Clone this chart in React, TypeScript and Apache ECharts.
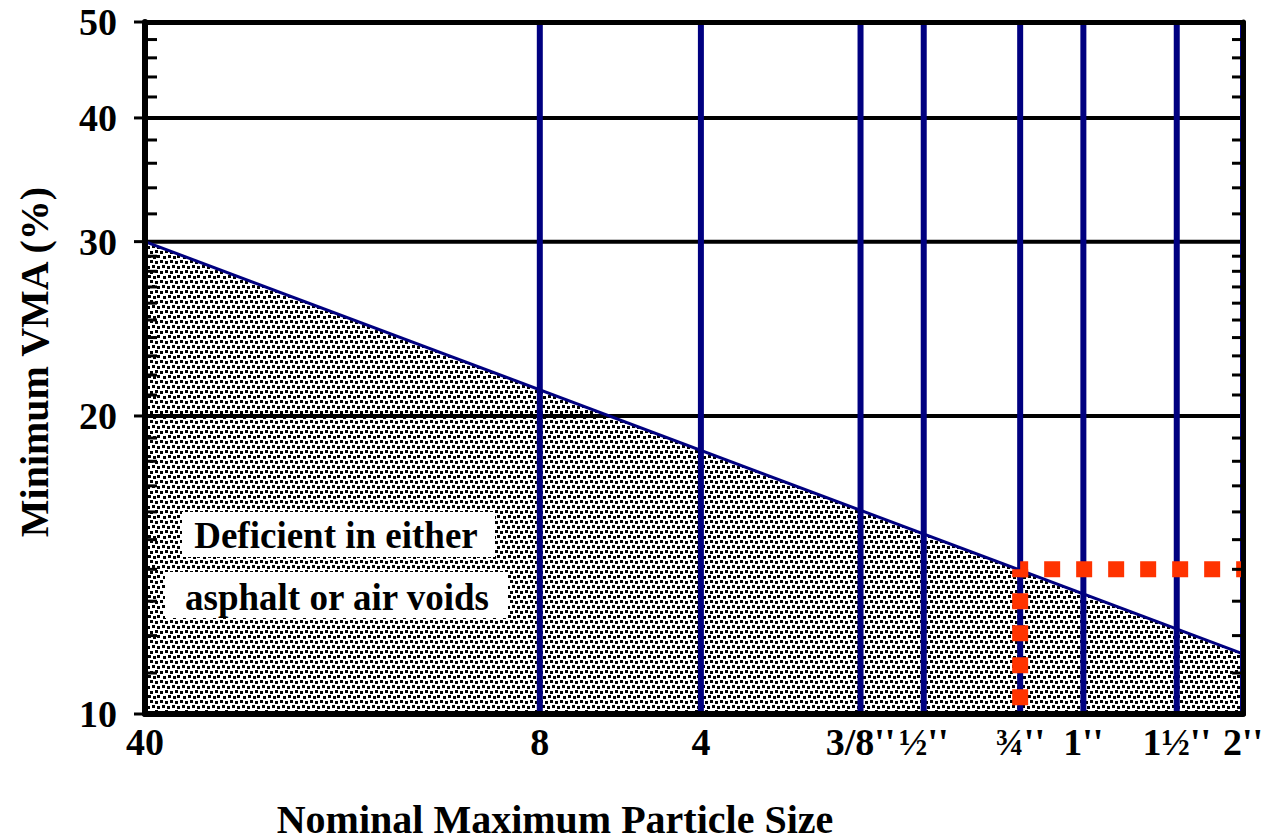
import React, { useEffect, useRef } from "react";
import * as echarts from "echarts";

// ---- data ----
const X_MIN = 0.425; // No. 40 sieve (mm)
const X_MAX = 50; // 2" sieve (mm)
const Y_MIN = 10;
const Y_MAX = 50;

const sieveSizes = [0.425, 2.36, 4.75, 9.5, 12.5, 19, 25, 37.5, 50];
const sieveLabels = ["40", "8", "4", "3/8''", "½''", "¾''", "1''", "1½''", "2''"];
const verticalLineSizes = [2.36, 4.75, 9.5, 12.5, 19, 25, 37.5, 50];

const yMajorTicks = [10, 20, 30, 40, 50];
const yMinorTicks = [
  11, 12, 13, 14, 15, 16, 17, 18, 19,
  21, 22, 23, 24, 25, 26, 27, 28, 29,
  32, 34, 36, 38,
  42, 44, 46, 48,
];
const gridLinesY = [20, 30, 40];

const boundaryX = [0.425, 50];
const boundaryVMA = [30, 11.5];

const exampleSize = 19; // 3/4"
const exampleVMA = 14;

const annotationLines = ["Deficient in either", "asphalt or air voids"];
const yTitle = "Minimum VMA (%)";
const xTitle = "Nominal Maximum Particle Size";

const FONT = '"Liberation Serif", "Times New Roman", Times, serif';

const TILE = 20;
function makeStipple(): HTMLCanvasElement {
  const c = document.createElement("canvas");
  c.width = TILE;
  c.height = TILE;
  const ctx = c.getContext("2d")!;
  ctx.fillStyle = "#fff";
  ctx.fillRect(0, 0, TILE, TILE);
  ctx.fillStyle = "#000";
  const dots = [
    [0, 0], [5, 1], [10, 0], [15, 1],
    [2, 5], [7, 6], [12, 5], [17, 6],
    [0, 11], [5, 10], [10, 11], [15, 10],
    [3, 16], [8, 15], [13, 16], [17, 15],
  ];
  dots.forEach(([x, y]) => ctx.fillRect(x, y, 3, 3));
  return c;
}

export default function App() {
  const ref = useRef<HTMLDivElement>(null);

  useEffect(() => {
    if (!ref.current) return;
    const chart = echarts.init(ref.current, undefined, { renderer: "svg" });
    const stipple = makeStipple();

    const axisBase = (pos: string, type: "x" | "y") => ({
      type: "log",
      logBase: 10,
      min: type === "x" ? X_MIN : Y_MIN,
      max: type === "x" ? X_MAX : Y_MAX,
      position: pos,
      z: 10,
      axisLine: { show: true, onZero: false, lineStyle: { color: "#000", width: pos === "top" || pos === "right" ? 5 : 6 } },
      axisTick: { show: false },
      axisLabel: { show: false },
      splitLine: { show: false },
      minorTick: { show: false },
      minorSplitLine: { show: false },
    });

    const series: any[] = [];

    // shaded deficient region
    series.push({
      type: "line",
      data: boundaryX.map((x, i) => [x, boundaryVMA[i]]),
      symbol: "none",
      lineStyle: { width: 0 },
      areaStyle: {
        origin: "start",
        color: { image: stipple, repeat: "repeat", imageWidth: TILE, imageHeight: TILE },
        opacity: 1,
      },
      z: 1,
      silent: true,
    });

    // horizontal grid lines
    gridLinesY.forEach((v) => {
      series.push({
        type: "line",
        data: [[X_MIN, v], [X_MAX, v]],
        symbol: "none",
        lineStyle: { color: "#000", width: 4 },
        z: 3,
        silent: true,
      });
    });

    // vertical sieve lines
    verticalLineSizes.forEach((s) => {
      series.push({
        type: "line",
        data: [[s, Y_MIN], [s, Y_MAX]],
        symbol: "none",
        lineStyle: { color: "#000080", width: 6 },
        z: 4,
        silent: true,
      });
    });

    // boundary line
    series.push({
      type: "line",
      data: boundaryX.map((x, i) => [x, boundaryVMA[i]]),
      symbol: "none",
      lineStyle: { color: "#000080", width: 3 },
      z: 5,
      silent: true,
    });

    // red dotted example
    series.push({
      type: "line",
      data: [[exampleSize, exampleVMA], [exampleSize, Y_MIN]],
      symbol: "none",
      lineStyle: { color: "#FF3300", width: 16, type: [16, 16], dashOffset: 8, cap: "butt" },
      z: 6,
      silent: true,
    });
    series.push({
      type: "line",
      data: [[exampleSize, exampleVMA], [X_MAX, exampleVMA]],
      symbol: "none",
      lineStyle: { color: "#FF3300", width: 16, type: [16, 16], dashOffset: 8, cap: "butt" },
      z: 6,
      silent: true,
    });

    // minor ticks (inside, both sides)
    series.push({
      type: "custom",
      coordinateSystem: "cartesian2d",
      data: yMinorTicks.map((v) => [X_MIN, v]),
      encode: { x: 0, y: 1 },
      z: 11,
      silent: true,
      renderItem: (params: any, api: any) => {
        const v = api.value(1);
        const pL = api.coord([X_MIN, v]);
        const pR = api.coord([X_MAX, v]);
        return {
          type: "group",
          children: [
            { type: "line", shape: { x1: pL[0], y1: pL[1], x2: pL[0] + 12, y2: pL[1] }, style: { stroke: "#000", lineWidth: 3 } },
            { type: "line", shape: { x1: pR[0] - 11, y1: pR[1], x2: pR[0], y2: pR[1] }, style: { stroke: "#000", lineWidth: 3 } },
          ],
        };
      },
    });

    // major y ticks + labels
    series.push({
      type: "custom",
      coordinateSystem: "cartesian2d",
      data: yMajorTicks.map((v) => [X_MIN, v]),
      encode: { x: 0, y: 1 },
      z: 11,
      silent: true,
      renderItem: (params: any, api: any) => {
        const v = api.value(1);
        const p = api.coord([X_MIN, v]);
        return {
          type: "group",
          children: [
            { type: "line", shape: { x1: p[0] - 11, y1: p[1], x2: p[0], y2: p[1] }, style: { stroke: "#000", lineWidth: 3 } },
            {
              type: "text",
              x: p[0] - 28,
              y: p[1],
              style: { text: String(v), font: `bold 38px ${FONT}`, fill: "#000", align: "right", verticalAlign: "middle" },
            },
          ],
        };
      },
    });

    // x labels
    series.push({
      type: "custom",
      coordinateSystem: "cartesian2d",
      data: sieveSizes.map((s) => [s, Y_MIN]),
      encode: { x: 0, y: 1 },
      z: 11,
      silent: true,
      renderItem: (params: any, api: any) => {
        const p = api.coord([api.value(0), Y_MIN]);
        return {
          type: "text",
          x: p[0],
          y: p[1] + 28,
          style: {
            text: sieveLabels[params.dataIndex],
            font: `bold 38px ${FONT}`,
            fill: "#000",
            align: "center",
            verticalAlign: "middle",
          },
        };
      },
    });

    chart.setOption({
      animation: false,
      backgroundColor: "#fff",
      grid: { left: 145, right: 25, top: 22, bottom: 126, show: false },
      xAxis: [axisBase("bottom", "x"), axisBase("top", "x")],
      yAxis: [axisBase("left", "y"), axisBase("right", "y")],
      series,
      graphic: [
        { type: "rect", shape: { x: 182, y: 512, width: 313, height: 45 }, style: { fill: "#fff" }, z: 20 },
        { type: "rect", shape: { x: 165, y: 572, width: 343, height: 46 }, style: { fill: "#fff" }, z: 20 },
        {
          type: "text", x: 336, y: 535, z: 21,
          style: { text: annotationLines[0], font: `bold 37px ${FONT}`, fill: "#000", align: "center", verticalAlign: "middle" },
        },
        {
          type: "text", x: 337, y: 597, z: 21,
          style: { text: annotationLines[1], font: `bold 37px ${FONT}`, fill: "#000", align: "center", verticalAlign: "middle" },
        },
        {
          type: "text", x: 34, y: 362, rotation: Math.PI / 2, z: 21,
          style: { text: yTitle, font: `bold 40px ${FONT}`, fill: "#000", align: "center", verticalAlign: "middle" },
        },
        {
          type: "text", x: 555, y: 819, z: 21,
          style: { text: xTitle, font: `bold 40px ${FONT}`, fill: "#000", align: "center", verticalAlign: "middle" },
        },
      ],
    });

    return () => chart.dispose();
  }, []);

  return (
    <div
      ref={ref}
      style={{ position: "absolute", left: 0, top: 0, width: 1268, height: 840, background: "#fff" }}
    />
  );
}
